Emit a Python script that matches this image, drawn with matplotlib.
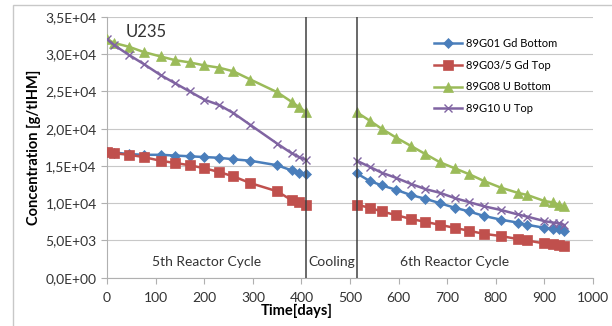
import matplotlib
matplotlib.use("Agg")
import matplotlib.pyplot as plt
import numpy as np
from matplotlib.ticker import FuncFormatter, MultipleLocator
from matplotlib.patches import Rectangle

plt.rcParams['font.family'] = ['Lato', 'DejaVu Sans']

# dagar for de to reaktorsyklusane
days_c5 = [0, 15, 45, 75, 110, 140, 170, 200, 230, 260, 295, 350, 380, 395, 410]
days_c6 = [514, 540, 565, 595, 625, 655, 685, 715, 745, 775, 810, 845, 865, 900, 918, 930, 940]

g01_c5 = [16900, 16800, 16600, 16500, 16500, 16400, 16300, 16200, 16100, 15900, 15700, 15100, 14400, 14000, 13900]
g01_c6 = [14000, 13000, 12400, 11800, 11100, 10600, 10000, 9400, 8900, 8300, 7800, 7400, 7100, 6700, 6600, 6500, 6300]

g03_c5 = [16900, 16700, 16500, 16200, 15700, 15400, 15100, 14700, 14200, 13600, 12700, 11600, 10400, 10100, 9800]
g03_c6 = [9800, 9400, 8900, 8400, 7900, 7500, 7100, 6700, 6300, 5900, 5600, 5200, 5000, 4600, 4500, 4400, 4300]

g08_c5 = [32000, 31500, 31000, 30300, 29700, 29200, 28900, 28500, 28200, 27700, 26600, 24900, 23600, 22900, 22200]
g08_c6 = [22200, 21100, 20000, 18800, 17700, 16600, 15500, 14700, 13900, 13000, 12100, 11400, 11100, 10300, 10100, 9800, 9600]

g10_c5 = [32000, 31200, 29900, 28700, 27200, 26100, 25000, 23900, 23200, 22100, 20500, 18000, 16700, 16200, 15800]
g10_c6 = [15700, 14900, 14100, 13400, 12600, 11900, 11400, 10700, 10150, 9600, 9100, 8500, 8200, 7600, 7400, 7300, 7100]

labels = ["89G01 Gd Bottom", "89G03/5 Gd Top", "89G08 U Bottom", "89G10 U Top"]
colors = ["#4A7EBB", "#C0504D", "#9BBB59", "#8064A2"]
markers = ["D", "s", "^", "x"]
msizes = [5, 6.5, 6.5, 5.5]

cycle_ends = [410, 514]

fig = plt.figure(figsize=(6.12, 3.26), dpi=100)
ax = fig.add_axes([0.175, 0.148, 0.794, 0.800])

# grå ramme rundt heile diagrammet
fig.patches.append(Rectangle((0.021, -0.05), 1.2, 1.035, transform=fig.transFigure,
                             fill=False, edgecolor="#c8c8c8", lw=1.0))

# set saman syklusane med eit hol imellom
x_all = days_c5 + [np.nan] + days_c6
series = [g01_c5 + [np.nan] + g01_c6,
          g03_c5 + [np.nan] + g03_c6,
          g08_c5 + [np.nan] + g08_c6,
          g10_c5 + [np.nan] + g10_c6]

for ys, lab, c, m, ms in zip(series, labels, colors, markers, msizes):
    ax.plot(x_all, ys, color=c, marker=m, markersize=ms, lw=1.8, label=lab,
            markeredgewidth=1.0 if m == "x" else 0.5, zorder=3)

for xv in cycle_ends:
    ax.axvline(xv, color="#404040", lw=1.1, zorder=4)

ax.set_xlim(0, 1000)
ax.set_ylim(0, 35000)
ax.xaxis.set_major_locator(MultipleLocator(100))
ax.yaxis.set_major_locator(MultipleLocator(5000))
ax.yaxis.set_major_formatter(FuncFormatter(lambda v, p: "{:.1E}".format(v).replace(".", ",")))
ax.grid(axis="y", color="#c8c8c8", lw=0.8)
ax.set_axisbelow(True)
for s in ["top", "right"]:
    ax.spines[s].set_visible(False)
for s in ["left", "bottom"]:
    ax.spines[s].set_color("#b0b0b0")
ax.tick_params(colors="#b0b0b0", labelcolor="#333333", labelsize=10, length=4)
ax.tick_params(axis="x", pad=6)

ax.set_xlabel("Time[days]", fontsize=10.5, fontweight="bold")
ax.xaxis.set_label_coords(0.39, -0.10)
ax.set_ylabel("Concentration [g/tIHM]", fontsize=10.5, fontweight="bold", labelpad=3)

ax.text(38, 32300, "U235", fontsize=12, color="#333333")
ax.text(205, 1600, "5th Reactor Cycle", fontsize=10, ha="center", color="#333333")
ax.text(462, 1600, "Cooling", fontsize=10, ha="center", color="#333333")
ax.text(716, 1600, "6th Reactor Cycle", fontsize=10, ha="center", color="#333333")

ax.legend(loc="upper right", bbox_to_anchor=(0.935, 0.935), frameon=False, fontsize=8,
          handlelength=2.6, handletextpad=0.3, labelspacing=0.95, borderaxespad=0)

fig.savefig("out.png", dpi=100)
